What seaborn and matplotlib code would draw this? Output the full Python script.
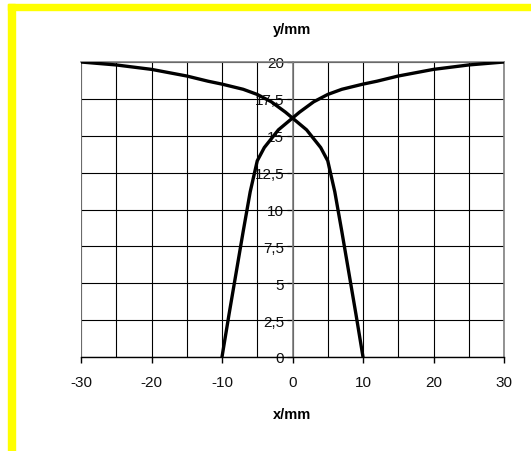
import matplotlib
matplotlib.use("Agg")
import matplotlib.pyplot as plt
from matplotlib.patches import Rectangle
from matplotlib.ticker import FixedLocator, FixedFormatter
import seaborn as sns
import pandas as pd

# Curve falling from left (-30 mm) to the right (10 mm)
x_left = [-30, -25, -20, -15, -12, -10, -7, -5, -3, -2, -1, 0, 1, 2, 3, 4, 5, 6, 7, 8, 9, 10]
y_left = [20, 19.8, 19.5, 19.05, 18.7, 18.5, 18.15, 17.8, 17.3, 16.95, 16.6, 16.2,
          15.8, 15.4, 14.8, 14.2, 13.3, 11.2, 8.5, 5.7, 2.9, 0]
# Curve rising from -10 mm up to the right (30 mm)
x_right = [-10, -9, -8, -7, -6, -5, -4, -3, -2, -1, 0, 1, 2, 3, 5, 7, 10, 12, 15, 20, 25, 30]
y_right = [0, 2.9, 5.7, 8.5, 11.2, 13.3, 14.2, 14.8, 15.4, 15.8, 16.2, 16.6, 16.95, 17.3,
           17.8, 18.15, 18.5, 18.7, 19.05, 19.5, 19.8, 20]

x_ticks = [-30, -20, -10, 0, 10, 20, 30]
x_ticklabels = ["-30", "-20", "-10", "0", "10", "20", "30"]
y_ticks = [0, 2.5, 5, 7.5, 10, 12.5, 15, 17.5, 20]
y_ticklabels = ["0", "2,5", "5", "7,5", "10", "12,5", "15", "17,5", "20"]
x_grid = list(range(-30, 31, 5))

sns.set_theme(style="white")
plt.rcParams["font.family"] = ["Liberation Sans", "DejaVu Sans"]

W, H = 531, 452
fig = plt.figure(figsize=(W / 100, H / 100), dpi=100)
fig.patch.set_facecolor("white")

# yellow frame (top and left)
fig.patches.append(Rectangle((8 / W, 1 - 11 / H), 1 - 8 / W, 6 / H,
                             transform=fig.transFigure, color="#ffff00", zorder=0))
fig.patches.append(Rectangle((8 / W, 0), 7 / W, 1 - 5 / H,
                             transform=fig.transFigure, color="#ffff00", zorder=0))

L, R, T, B = 81, 504, 63, 358
ax = fig.add_axes([L / W, (H - B) / H, (R - L) / W, (B - T) / H])
ax.set_facecolor("white")

df1 = pd.DataFrame({"x": x_left, "y": y_left})
df2 = pd.DataFrame({"x": x_right, "y": y_right})
sns.lineplot(data=df1, x="x", y="y", sort=False, color="black", lw=2.4, ax=ax, zorder=5)
sns.lineplot(data=df2, x="x", y="y", sort=False, color="black", lw=2.4, ax=ax, zorder=5)

ax.set_xlim(-30, 30)
ax.set_ylim(0, 20)

# grid lines
for gx in x_grid:
    ax.axvline(gx, color="black", lw=0.8, zorder=1)
for gy in y_ticks:
    ax.axhline(gy, color="black", lw=0.8, zorder=1)

for s in ["top", "right"]:
    ax.spines[s].set_color("#808080")
    ax.spines[s].set_linewidth(1.2)
ax.spines["left"].set_position(("data", 0))
ax.spines["left"].set_color("#808080")
ax.spines["left"].set_linewidth(1.2)
ax.spines["left"].set_zorder(2)
ax.spines["bottom"].set_color("black")
ax.spines["bottom"].set_linewidth(1.0)
# left border of plot area
ax.axvline(-30, color="#808080", lw=1.2, zorder=2)

ax.xaxis.set_major_locator(FixedLocator(x_ticks))
ax.xaxis.set_major_formatter(FixedFormatter(x_ticklabels))
ax.yaxis.set_major_locator(FixedLocator(y_ticks))
ax.yaxis.set_major_formatter(FixedFormatter(y_ticklabels))
ax.tick_params(axis="x", direction="out", length=4, width=1, color="black",
               labelsize=11, pad=9, labelcolor="#111111", bottom=True)
ax.tick_params(axis="y", direction="out", length=4, width=1, color="#808080",
               labelsize=11, pad=2, labelcolor="#111111", left=True)
for lab in ax.get_yticklabels():
    lab.set_zorder(3)

ax.set_xlabel("")
ax.set_ylabel("")
fig.text(292 / W, 1 - 30 / H, "y/mm", ha="center", va="center",
         fontsize=10.5, fontweight="bold", color="black")
fig.text(292 / W, 1 - 415 / H, "x/mm", ha="center", va="center",
         fontsize=10.5, fontweight="bold", color="black")

fig.savefig("out.png", dpi=100, facecolor="white")
